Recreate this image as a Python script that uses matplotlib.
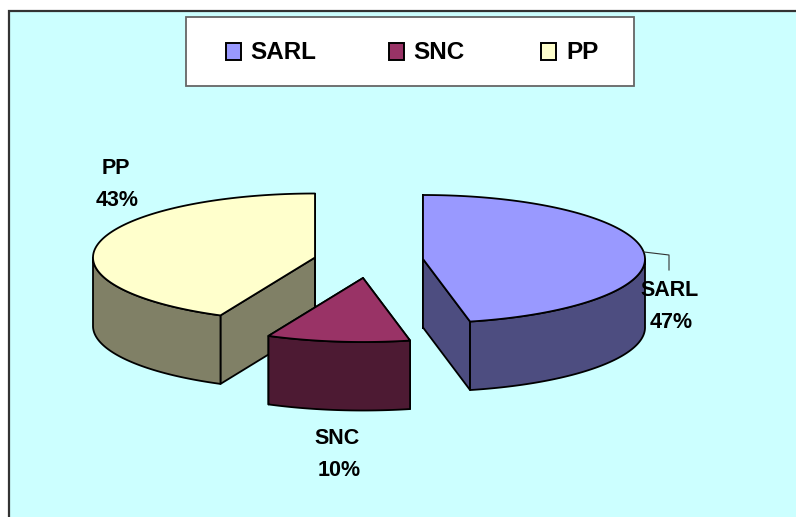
import numpy as np
import matplotlib
matplotlib.use("Agg")
import matplotlib.pyplot as plt
from matplotlib.patches import Rectangle, Polygon

plt.rcParams['font.family'] = ['Liberation Sans', 'DejaVu Sans']

categories = ["SARL", "SNC", "PP"]
shares = [46.6, 10.4, 43.0]
top_colors = ["#9999FF", "#993366", "#FFFFCC"]
side_colors = ["#4D4D80", "#4D1A33", "#808066"]

W, H = 796, 517
RX, RY, DEPTH = 222, 64, 68.5
centers = [(423, 259), (363, 278), (315, 257.5)]
name_pos = [(669.5, 290), (337, 438), (116, 168)]
pct_pos = [(671, 322), (339, 470), (117, 200)]

fig = plt.figure(figsize=(W / 100, H / 100), dpi=100, facecolor="white")
ax = fig.add_axes([0, 0, 1, 1])
ax.set_xlim(0, W)
ax.set_ylim(H, 0)
ax.axis("off")

ax.add_patch(Rectangle((9, 11), W + 20, H + 20, fc="#CCFFFF", ec="#333333", lw=1.6, zorder=0))


def rim(cx, cy, a0, a1, n=120):
    t = np.radians(np.linspace(a0, a1, n))
    return np.column_stack([cx + RX * np.sin(t), cy - RY * np.cos(t)])


fractions = np.array(shares) / sum(shares)
edges = np.concatenate([[0], np.cumsum(fractions) * 360])
down = np.array([0, DEPTH])
draw_order = [2, 0, 1]

for z, i in enumerate(draw_order):
    a0, a1 = edges[i], edges[i + 1]
    cx, cy = centers[i]
    c = np.array([cx, cy])
    base = 2 + z * 2
    arc = rim(cx, cy, a0, a1)
    # radial cut faces
    for a in (a0, a1):
        p = rim(cx, cy, a, a, 1)[0]
        ax.add_patch(Polygon([c, p, p + down, c + down], closed=True, fc=side_colors[i],
                             ec="black", lw=1.3, zorder=base, joinstyle="round"))
    # outer wall: only the part of the rim that faces the viewer
    lo, hi = max(a0, 90), min(a1, 270)
    if hi > lo:
        front = rim(cx, cy, lo, hi)
        ax.add_patch(Polygon(np.vstack([front, (front + down)[::-1]]), closed=True,
                             fc=side_colors[i], ec="black", lw=1.3, zorder=base + 0.5,
                             joinstyle="round"))
    # top face
    ax.add_patch(Polygon(np.vstack([[c], arc]), closed=True, fc=top_colors[i],
                         ec="black", lw=1.3, zorder=base + 1, joinstyle="round"))

# leader line of the SARL label
ax.plot([644, 669, 669], [252, 255, 270], color="#333333", lw=0.8, zorder=12)

# data labels
for name, share, (nx, ny), (px, py) in zip(categories, shares, name_pos, pct_pos):
    ax.text(nx, ny, name, ha="center", va="center", fontsize=15.5, fontweight="bold", color="black", zorder=14)
    ax.text(px, py, f"{round(share)}%", ha="center", va="center", fontsize=15.5, fontweight="bold", color="black", zorder=14)

# legend
ax.add_patch(Rectangle((185.5, 16.5), 448, 69, fc="white", ec="#666666", lw=1.3, zorder=15))
swatch_x = [226, 389, 541]
text_x = [250, 413.5, 566]
for name, col, sx, tx in zip(categories, top_colors, swatch_x, text_x):
    ax.add_patch(Rectangle((sx, 43), 15, 17, fc=col, ec="black", lw=1.4, zorder=16))
    ax.text(tx, 52.5, name, ha="left", va="center", fontsize=17.5, fontweight="bold", color="black", zorder=16)

fig.savefig("out.png", dpi=100, facecolor="white")
